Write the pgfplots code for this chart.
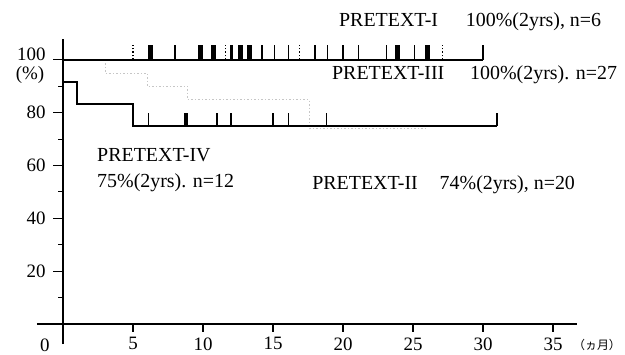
\documentclass[border=0pt]{standalone}
\usepackage{fontspec}
\setmainfont{Liberation Serif}
\newfontfamily\cjk{Noto Sans CJK JP}
\usepackage{pgfplots}
\pgfplotsset{compat=1.18}
\pgfdeclareplotmark{cens}{\pgfpathmoveto{\pgfpointorigin}\pgfpathlineto{\pgfqpoint{0pt}{\pgfplotmarksize}}\pgfusepathqstroke}
\newcommand{\lbl}{\fontsize{20}{24}\selectfont}
\begin{document}
\begin{tikzpicture}
\begin{axis}[
  x=14bp, y=2.64bp,
  xmin=-1.86, xmax=36.71, ymin=-7.6, ymax=108,
  axis lines=middle,
  axis line style={-, line width=1.3bp},
  clip=false,
  xtick={5,10,...,35},
  ytick={20,40,60,80},
  extra y ticks={100},
  extra y tick style={yticklabel style={yshift=6bp}},
  minor ytick={10,30,50,70,90},
  tick align=outside,
  major tick length=10bp,
  minor tick length=5bp,
  xtick style={/pgfplots/major tick length=8bp},
  tick style={line width=1.1bp, black},
  tick label style={font=\fontsize{19}{22}\selectfont},
  yticklabel style={xshift=-4bp},
  /pgf/number format/assume math mode=true,
]
% PRETEXT-II (faint in the reproduction)
\addplot[gray!45, line width=1bp, dash pattern=on 1.5bp off 2bp] coordinates {
 (0,100) (3,100) (3,95) (6,95) (6,90) (8.9,90) (8.9,85) (17.6,85) (17.6,74) (26,74)};
% PRETEXT-I / III
\addplot[black, line width=1.6bp] coordinates {(0,100) (30,100)};
% PRETEXT-IV
\addplot[black, line width=1.6bp] coordinates {
 (0,100) (0,91.7) (1,91.7) (1,83.3) (5,83.3) (5,75) (31,75)};
% censor marks, top: single
\addplot[only marks, mark=cens, mark size=14.5bp, mark options={line width=1.4bp, black}] coordinates {
 (8.0,100) (14.2,100) (15.1,100) (16.1,100) (18.0,100) (18.9,100) (20.0,100)
 (21.1,100) (23.1,100) (25.1,100) (30.0,100)};
% censor marks, top: dense blocks
\addplot[only marks, mark=cens, mark size=14.5bp, mark options={line width=5bp, black}] coordinates {
 (6.25,100) (9.8,100) (10.75,100) (12.65,100) (13.3,100) (23.9,100) (26.05,100)};
\addplot[only marks, mark=cens, mark size=14.5bp, mark options={line width=3bp, black}] coordinates {
 (12.0,100)};
% censor marks, top: dotted
\addplot[only marks, mark=cens, mark size=14.5bp, mark options={line width=1.4bp, black, dash pattern=on 1.5bp off 2bp}] coordinates {
 (5.0,100) (11.6,100) (16.9,100) (27.1,100)};
% censor marks, lower
\addplot[only marks, mark=cens, mark size=13bp, mark options={line width=1.4bp, black}] coordinates {
 (6.1,75) (11.0,75) (12.0,75) (15.0,75) (16.1,75) (18.8,75) (31.0,75)};
\addplot[only marks, mark=cens, mark size=13bp, mark options={line width=4bp, black}] coordinates {
 (8.8,75)};
% labels
\node[anchor=west, inner sep=0] at (axis cs:19.71,114.4) {\lbl PRETEXT-I\hspace{1.4em}100\%(2yrs), n=6};
\node[anchor=west, inner sep=0] at (axis cs:19.21,94.3) {\lbl PRETEXT-III\hspace{1.3em}100\%(2yrs). n=27};
\node[anchor=west, inner sep=0] at (axis cs:2.43,63.9) {\lbl PRETEXT-IV};
\node[anchor=west, inner sep=0] at (axis cs:2.43,53.6) {\lbl 75\%(2yrs). n=12};
\node[anchor=west, inner sep=0] at (axis cs:17.79,52.9) {\lbl PRETEXT-II\hspace{1.1em}74\%(2yrs), n=20};
\node[inner sep=0] at (axis cs:-2.36,94.3) {\fontsize{19}{22}\selectfont (\%)};
\node[inner sep=0] at (axis cs:-1.29,-8) {\fontsize{19}{22}\selectfont 0};
\node[inner sep=0] at (axis cs:38.14,-8) {\cjk\fontsize{12}{14}\selectfont （ヵ月）};
\coordinate (BL) at (axis cs:-4.5,-11.74);
\coordinate (TR) at (axis cs:40.14,122.7);
\end{axis}
\pgfresetboundingbox
\path[use as bounding box] (BL) rectangle (TR);
\end{tikzpicture}
\end{document}
